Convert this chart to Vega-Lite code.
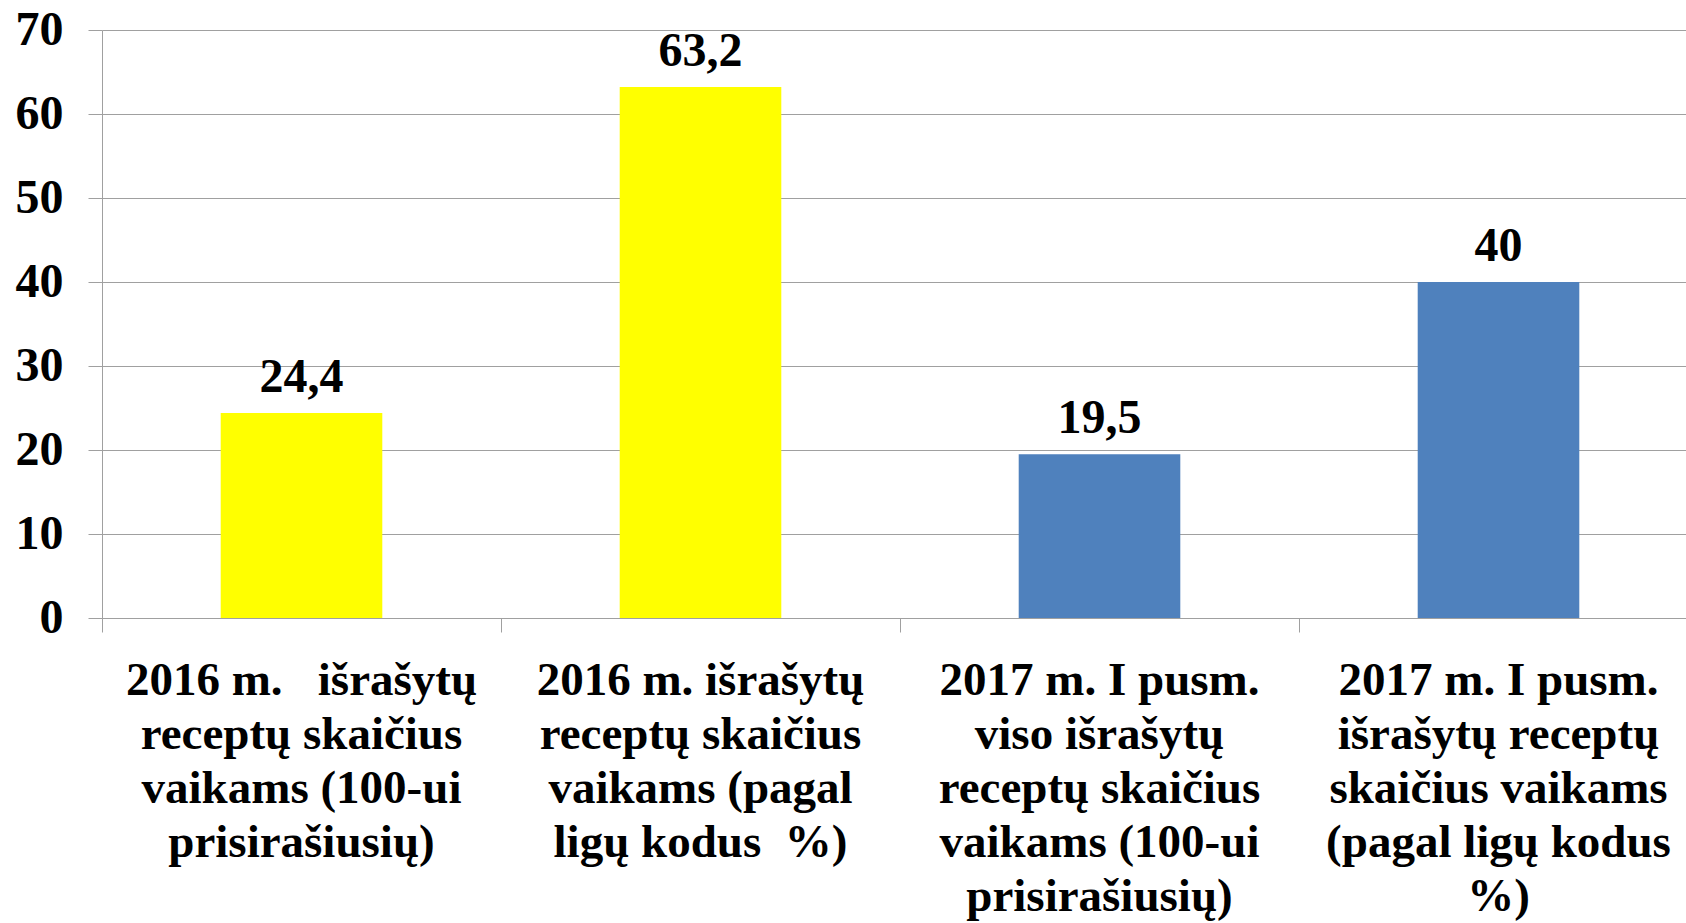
{
  "$schema": "https://vega.github.io/schema/vega-lite/v6.json",
  "autosize": "none",
  "width": 1584,
  "height": 588,
  "padding": {"left": 102, "top": 30, "right": 0, "bottom": 305},
  "background": "white",
  "config": {
    "view": {"stroke": null},
    "locale": {"number": {"decimal": ",", "thousands": " ", "grouping": [3], "currency": ["", " €"]}},
    "font": "Liberation Serif"
  },
  "data": {
    "values": [
      {"category": "2016 m. \u00a0 išrašytų|receptų skaičius|vaikams (100-ui|prisirašiusių)", "value": 24.4, "group": "2016"},
      {"category": "2016 m. išrašytų|receptų skaičius|vaikams (pagal|ligų kodus \u00a0%)", "value": 63.2, "group": "2016"},
      {"category": "2017 m. I pusm.|viso išrašytų|receptų skaičius|vaikams (100-ui|prisirašiusių)", "value": 19.5, "group": "2017"},
      {"category": "2017 m. I pusm.|išrašytų receptų|skaičius vaikams|(pagal ligų kodus|%)", "value": 40, "group": "2017"}
    ]
  },
  "encoding": {
    "x": {
      "field": "category",
      "type": "nominal",
      "sort": null,
      "scale": {"paddingInner": 0, "paddingOuter": 0, "range": [0, 1596]},
      "axis": {
        "title": null,
        "labelAngle": 0,
        "labelExpr": "split(datum.label, '|')",
        "labelFont": "Liberation Serif",
        "labelFontWeight": "bold",
        "labelFontSize": 47,
        "labelLineHeight": 54,
        "labelColor": "black",
        "labelPadding": 25,
        "labelLimit": 0,
        "bandPosition": 0,
        "tickSize": 14,
        "tickColor": "#a0a0a0",
        "domainColor": "#a0a0a0",
        "grid": false
      }
    },
    "y": {
      "field": "value",
      "type": "quantitative",
      "scale": {"domain": [0, 70], "nice": false},
      "axis": {
        "title": null,
        "values": [0, 10, 20, 30, 40, 50, 60, 70],
        "labelFont": "Liberation Serif",
        "labelFontWeight": "bold",
        "labelFontSize": 48,
        "labelColor": "black",
        "labelPadding": 25,
        "tickSize": 14,
        "tickColor": "#a0a0a0",
        "domainColor": "#a0a0a0",
        "gridColor": "#a0a0a0",
        "grid": true
      }
    }
  },
  "layer": [
    {
      "mark": {"type": "bar", "width": {"band": 0.405}},
      "encoding": {
        "color": {
          "field": "group",
          "type": "nominal",
          "scale": {"domain": ["2016", "2017"], "range": ["#FFFF00", "#4F81BD"]},
          "legend": null
        }
      }
    },
    {
      "mark": {"type": "text", "font": "Liberation Serif", "fontWeight": "bold", "fontSize": 48, "baseline": "alphabetic", "dy": -21, "color": "black"},
      "encoding": {
        "text": {"field": "value", "type": "quantitative", "format": ".1~f"}
      }
    }
  ]
}
